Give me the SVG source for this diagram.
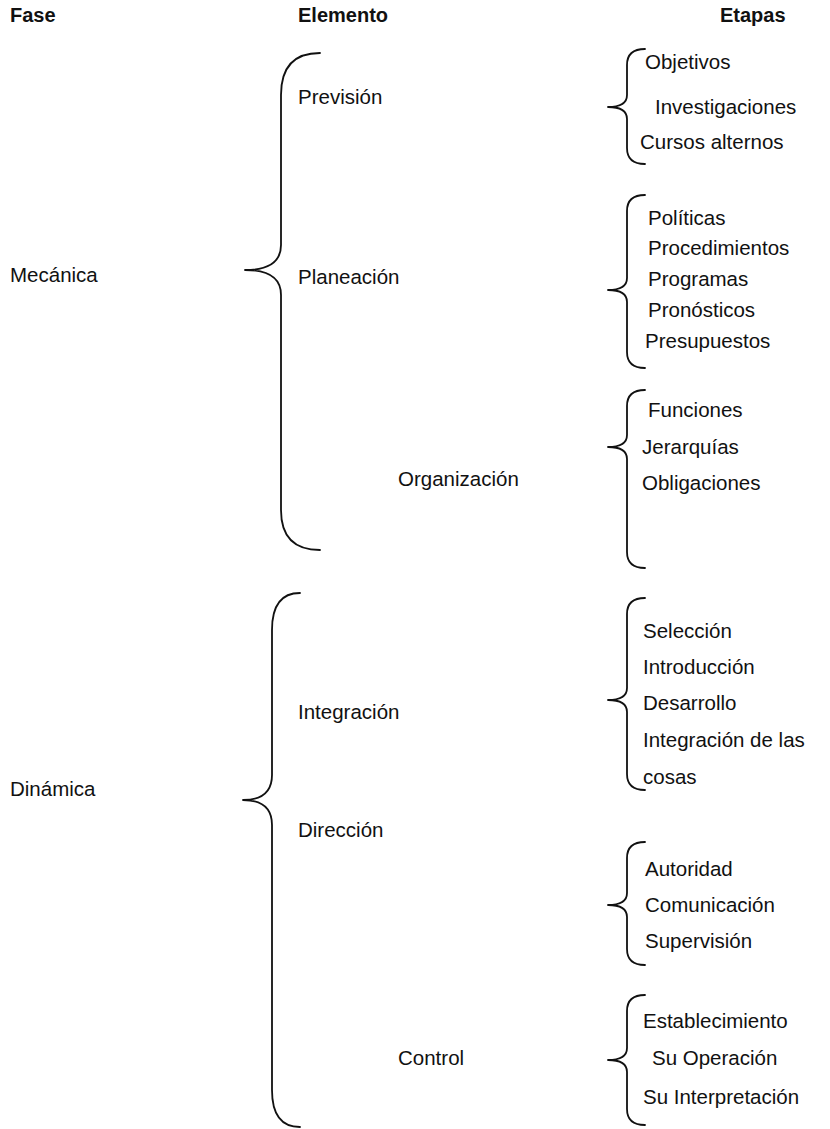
<svg xmlns="http://www.w3.org/2000/svg" width="830" height="1129" viewBox="0 0 830 1129">
<style>
text{font-family:"Liberation Sans",Arial,sans-serif;font-size:20.5px;fill:#111}
.h{font-weight:bold;font-size:20px}
.br{fill:none;stroke:#111;stroke-width:1.8;stroke-linecap:round;stroke-linejoin:round}
</style>
<rect width="830" height="1129" fill="#fff"/>
<g id="headers">
<text class="h" x="10" y="22">Fase</text>
<text class="h" x="298" y="22">Elemento</text>
<text class="h" x="720" y="22">Etapas</text>
</g>
<g id="fase-mecanica"><text x="10" y="282">Mecánica</text></g>
<g id="fase-dinamica"><text x="10" y="796">Dinámica</text></g>
<g id="el-prevision"><text x="298" y="104">Previsión</text></g>
<g id="el-planeacion"><text x="298" y="284">Planeación</text></g>
<g id="el-organizacion"><text x="398" y="486">Organización</text></g>
<g id="el-integracion"><text x="298" y="719">Integración</text></g>
<g id="el-direccion"><text x="298" y="837">Dirección</text></g>
<g id="el-control"><text x="398" y="1065">Control</text></g>
<g id="et-prevision">
<text x="645" y="69">Objetivos</text>
<text x="655" y="114">Investigaciones</text>
<text x="640" y="149">Cursos alternos</text>
</g>
<g id="et-planeacion">
<text x="648" y="225">Políticas</text>
<text x="648" y="255">Procedimientos</text>
<text x="648" y="286">Programas</text>
<text x="648" y="317">Pronósticos</text>
<text x="645" y="348">Presupuestos</text>
</g>
<g id="et-organizacion">
<text x="648" y="417">Funciones</text>
<text x="642" y="454">Jerarquías</text>
<text x="642" y="490">Obligaciones</text>
</g>
<g id="et-integracion">
<text x="643" y="638">Selección</text>
<text x="643" y="674">Introducción</text>
<text x="643" y="710">Desarrollo</text>
<text x="643" y="747">Integración de las</text>
<text x="643" y="784">cosas</text>
</g>
<g id="et-direccion">
<text x="645" y="876">Autoridad</text>
<text x="645" y="912">Comunicación</text>
<text x="645" y="948">Supervisión</text>
</g>
<g id="et-control">
<text x="643" y="1028">Establecimiento</text>
<text x="652" y="1065">Su Operación</text>
<text x="643" y="1104">Su Interpretación</text>
</g>
<g id="connectors">
<path class="br" d="M320,53 Q281,53 281,95 L281,245 Q281,270 245,270 Q281,270 281,295 L281,510 Q281,550 320,550"/>
<path class="br" d="M300,593 Q272,593 272,630 L272,775 Q272,800 243,800 Q272,800 272,825 L272,1090 Q272,1127 300,1127"/>
<path class="br" d="M645,49 Q627,49 627,65 L627,95 Q627,107 608,107 Q627,107 627,119 L627,148 Q627,164 645,164"/>
<path class="br" d="M645,195 Q627,195 627,211 L627,278 Q627,290 608,290 Q627,290 627,302 L627,352 Q627,368 645,368"/>
<path class="br" d="M645,390 Q627,390 627,406 L627,435 Q627,447 608,447 Q627,447 627,459 L627,552 Q627,568 645,568"/>
<path class="br" d="M645,598 Q627,598 627,614 L627,688 Q627,700 608,700 Q627,700 627,712 L627,774 Q627,790 645,790"/>
<path class="br" d="M645,842 Q627,842 627,858 L627,893 Q627,905 608,905 Q627,905 627,917 L627,949 Q627,965 645,965"/>
<path class="br" d="M645,995 Q627,995 627,1011 L627,1048 Q627,1060 608,1060 Q627,1060 627,1072 L627,1109 Q627,1125 645,1125"/>
</g>
</svg>
